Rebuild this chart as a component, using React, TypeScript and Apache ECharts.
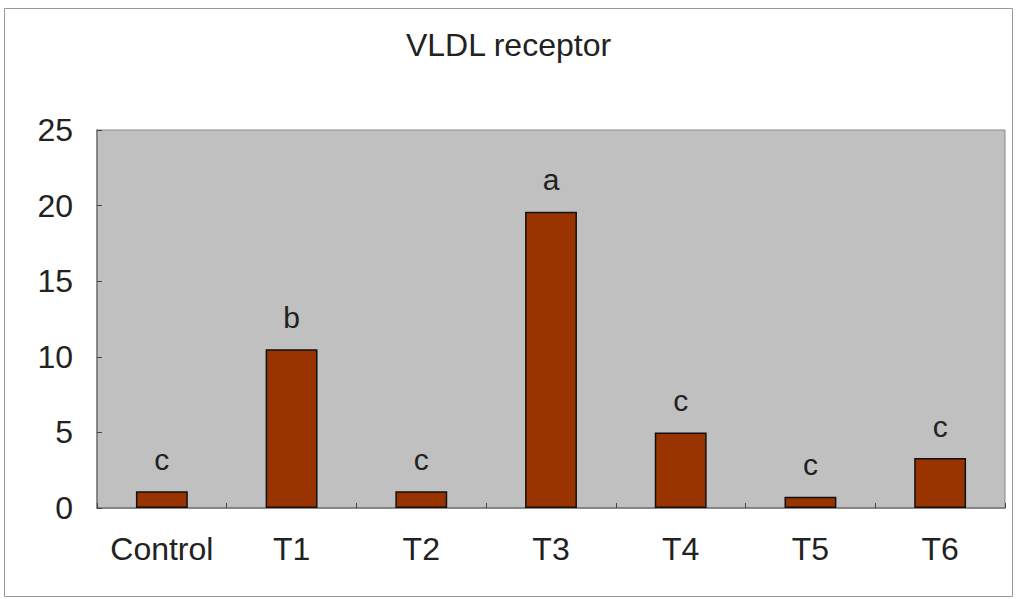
import React, { useEffect, useRef } from "react";
import * as echarts from "echarts";

const categories = ["Control", "T1", "T2", "T3", "T4", "T5", "T6"];
const values = [1.1, 10.5, 1.1, 19.6, 5.0, 0.75, 3.3];
const letters = ["c", "b", "c", "a", "c", "c", "c"];
const yTicks = { min: 0, max: 25, interval: 5 };
const title = "VLDL receptor";

export default function App() {
  const ref = useRef<HTMLDivElement>(null);
  useEffect(() => {
    if (!ref.current) return;
    const chart = echarts.init(ref.current, undefined, { renderer: "svg" });
    const font = "Arial, 'Liberation Sans', sans-serif";
    chart.setOption({
      animation: false,
      backgroundColor: "#ffffff",
      textStyle: { fontFamily: font },
      title: {
        text: title,
        left: "center",
        top: 24,
        textStyle: { fontSize: 32, fontWeight: "normal", color: "#222", fontFamily: font },
      },
      graphic: [
        {
          type: "rect",
          shape: { x: 4.5, y: 8.5, width: 1008, height: 588 },
          style: { fill: "none", stroke: "#999", lineWidth: 1 },
          silent: true,
        },
      ],
      grid: {
        left: 97,
        top: 130,
        right: 12,
        bottom: 91,
        show: true,
        backgroundColor: "#c0c0c0",
        borderColor: "#888",
        borderWidth: 1,
      },
      xAxis: {
        type: "category",
        data: categories,
        axisLine: { show: true, lineStyle: { color: "#777", width: 1.5 } },
        axisTick: { show: true, inside: true, length: 5, lineStyle: { color: "#444" } },
        axisLabel: { fontSize: 32, color: "#222", margin: 25, fontFamily: font, interval: 0 },
        splitLine: { show: false },
      },
      yAxis: {
        type: "value",
        min: yTicks.min,
        max: yTicks.max,
        interval: yTicks.interval,
        axisLine: { show: true, lineStyle: { color: "#777", width: 1.5 } },
        axisTick: { show: true, inside: true, length: 5, lineStyle: { color: "#444" } },
        axisLabel: { fontSize: 32, color: "#222", margin: 24, fontFamily: font },
        splitLine: { show: false },
      },
      series: [
        {
          type: "bar",
          data: values,
          barWidth: "40%",
          itemStyle: { color: "#993300", borderColor: "#111", borderWidth: 1.5 },
          label: {
            show: true,
            position: "top",
            distance: 17,
            fontSize: 30,
            color: "#222",
            fontFamily: font,
            formatter: (p: any) => letters[p.dataIndex],
          },
        },
      ],
    });
    return () => chart.dispose();
  }, []);
  return (
    <div
      ref={ref}
      style={{ position: "fixed", left: 0, top: 0, width: 1017, height: 599 }}
    />
  );
}
